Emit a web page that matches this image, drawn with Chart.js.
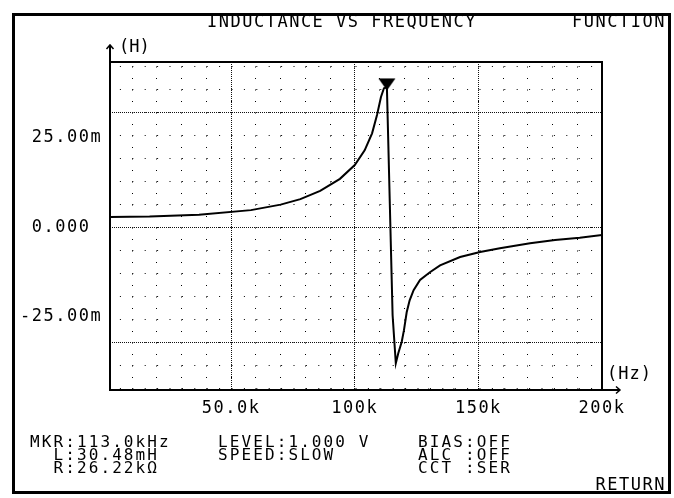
<!DOCTYPE html>
<html>
<head>
<meta charset="utf-8">
<script src="https://cdn.jsdelivr.net/npm/chart.js@4.4.0/dist/chart.umd.min.js"></script>
<style>
  body { margin: 0; background: #fff; }
  #wrap { position: relative; width: 674px; height: 498px; overflow: hidden; }
  #frame { position: absolute; left: 12px; top: 13px; width: 653px; height: 475px; border: 3px solid #000; }
  canvas { position: absolute; left: 0; top: 0; }
  .txt { position: absolute; font-family: "DejaVu Sans Mono", monospace; font-size: 17px;
         letter-spacing: 1.5px; line-height: 13px; white-space: pre; color: #000; }
  .foot { font-size: 16px; letter-spacing: 2.1px; }
</style>
</head>
<body>
<div id="wrap">
  <div id="frame"></div>
  <canvas id="lcr" width="674" height="498"></canvas>
  <div class="txt" style="left:207px; top:15px;">INDUCTANCE VS FREQUENCY</div>
  <div class="txt" style="right:8px; top:15px;">FUNCTION</div>
  <div class="txt foot" style="left:30px; top:435px;">MKR:113.0kHz
  L:30.48mH
  R:26.22kΩ</div>
  <div class="txt foot" style="left:218px; top:435px;">LEVEL:1.000 V
SPEED:SLOW</div>
  <div class="txt foot" style="left:418px; top:435px;">BIAS:OFF
ALC :OFF
CCT :SER</div>
  <div class="txt" style="right:8px; top:478px;">RETURN</div>
</div>
<script>
// sweep, kHz -> mH
const freqK = [1, 17, 37, 58, 70, 78, 86, 94, 100, 104, 107, 109, 110.6, 111.8, 113.0,
               115.3, 116.6, 117.6, 119.0, 119.9, 121.0, 122.2, 123.8, 126.4, 130.4, 134.5, 142.6,
               150.7, 158.7, 170.9, 181, 191, 200];
const indM = [2.3, 2.4, 2.8, 3.8, 5.0, 6.2, 8.0, 10.6, 13.6, 16.8, 20.5, 24.5, 28.4, 30.3, 30.48,
              -19.0, -29.5, -27.3, -24.8, -22.3, -18.4, -15.8, -13.6, -11.4, -9.7, -8.2, -6.4,
              -5.3, -4.5, -3.4, -2.7, -2.2, -1.6];

// marker
const mkrFreq = 113.0;
const mkrInd = 30.48;

// axes
const xMin = 1, xMax = 200;
const yMin = -35.3, yMax = 36;
const xTicks = [50, 100, 150, 200];
const xTickLabels = ['50.0k', '100k', '150k', '200k'];
const yTicks = [-25, 0, 25];
const yTickLabels = ['-25.00m', ' 0.000', ' 25.00m'];

const FONT = 'DejaVu Sans Mono';

// minor divisions: 10k and 5m
const xMinor = [];
for (let v = 10; v < xMax; v += 10) xMinor.push({ value: v });
const yMinor = [];
for (let v = -35; v <= 35; v += 5) yMinor.push({ value: v });

// inverted triangle for the marker, sits just above the point
const tri = document.createElement('canvas');
tri.width = 18; tri.height = 30;
const t = tri.getContext('2d');
t.fillStyle = '#000';
t.beginPath(); t.moveTo(0.5, 6); t.lineTo(17.5, 6); t.lineTo(9, 18); t.closePath(); t.fill();

const decor = {
    id: 'decor',
    beforeDraw(chart) {
        chart.ctx.letterSpacing = '1.5px';
    },
    afterDraw(chart) {
        const { ctx, chartArea: a, scales } = chart;
        ctx.save();
        ctx.strokeStyle = '#000';
        ctx.fillStyle = '#000';
        ctx.lineWidth = 2;
        ctx.strokeRect(a.left, a.top, a.right - a.left, a.bottom - a.top);

        // axis arrows
        ctx.beginPath();
        ctx.moveTo(a.left, a.top);
        ctx.lineTo(a.left, a.top - 17);
        ctx.moveTo(a.right, a.bottom);
        ctx.lineTo(a.right + 18, a.bottom);
        ctx.stroke();
        ctx.lineWidth = 1.5;
        ctx.beginPath();
        ctx.moveTo(a.left - 3.5, a.top - 13);
        ctx.lineTo(a.left, a.top - 17);
        ctx.lineTo(a.left + 3.5, a.top - 13);
        ctx.moveTo(a.right + 14, a.bottom - 3.5);
        ctx.lineTo(a.right + 18, a.bottom);
        ctx.lineTo(a.right + 14, a.bottom + 3.5);
        ctx.stroke();

        ctx.font = '17px "' + FONT + '"';
        ctx.textBaseline = 'middle';
        ctx.textAlign = 'left';
        ctx.letterSpacing = '0px';
        ctx.fillText('(H)', a.left + 9, a.top - 14);
        ctx.letterSpacing = '1px';
        ctx.fillText('(Hz)', a.right + 5, a.bottom - 15);
        ctx.letterSpacing = '1.5px';

        // y labels sit inside the ±25m lines, as on the instrument
        yTicks.forEach((v, i) => {
            let py = scales.y2.getPixelForValue(v);
            if (v > 0) py += 25;
            if (v < 0) py -= 26;
            ctx.fillText(yTickLabels[i], 20, py);
        });
        ctx.restore();
    }
};

const minorX = {
    type: 'linear', position: 'bottom', min: xMin, max: xMax,
    afterBuildTicks: s => { s.ticks = xMinor.slice(); },
    ticks: { display: false },
    grid: { color: '#000', lineWidth: 1, drawTicks: false },
    border: { display: false, dash: [1, 10.5], dashOffset: 7 },
    afterFit: s => { s.height = 0; }
};
const majorX = {
    type: 'linear', position: 'bottom', min: xMin, max: xMax,
    afterBuildTicks: s => { s.ticks = xTicks.map(v => ({ value: v })); },
    ticks: {
        autoSkip: false, maxRotation: 0, padding: 8, color: '#000',
        font: { family: FONT, size: 17 },
        callback: (v, i) => xTickLabels[i]
    },
    grid: { color: '#111', lineWidth: 1, drawTicks: false },
    border: { display: false, dash: [1, 1] },
    afterFit: s => { s.height = 108; }
};
const minorY = {
    type: 'linear', position: 'left', min: yMin, max: yMax,
    afterBuildTicks: s => { s.ticks = yMinor.slice(); },
    ticks: { display: false },
    grid: { color: '#000', lineWidth: 1, drawTicks: false },
    border: { display: false, dash: [1, 11.4], dashOffset: 2.5 },
    afterFit: s => { s.width = 0; }
};
const majorY = {
    type: 'linear', position: 'left', min: yMin, max: yMax,
    afterBuildTicks: s => { s.ticks = yTicks.map(v => ({ value: v })); },
    ticks: { display: false },
    grid: { color: '#111', lineWidth: 1, drawTicks: false },
    border: { display: false, dash: [1, 1] },
    afterFit: s => { s.width = 110; }
};

new Chart(document.getElementById('lcr'), {
    type: 'line',
    data: {
        datasets: [{
            data: freqK.map((f, i) => ({ x: f, y: indM[i] })),
            borderColor: '#000',
            borderWidth: 2,
            pointRadius: 0,
            tension: 0,
            xAxisID: 'x',
            yAxisID: 'y'
        }, {
            data: [{ x: mkrFreq, y: mkrInd }],
            showLine: false,
            pointStyle: tri,
            pointRadius: 9,
            xAxisID: 'x',
            yAxisID: 'y'
        }]
    },
    plugins: [decor],
    options: {
        responsive: false,
        devicePixelRatio: 1,
        animation: false,
        events: [],
        layout: { padding: { left: 0, top: 62, right: 72, bottom: 0 } },
        plugins: { legend: { display: false }, tooltip: { enabled: false } },
        scales: { x: minorX, x2: majorX, y: minorY, y2: majorY }
    }
});
</script>
</body>
</html>
